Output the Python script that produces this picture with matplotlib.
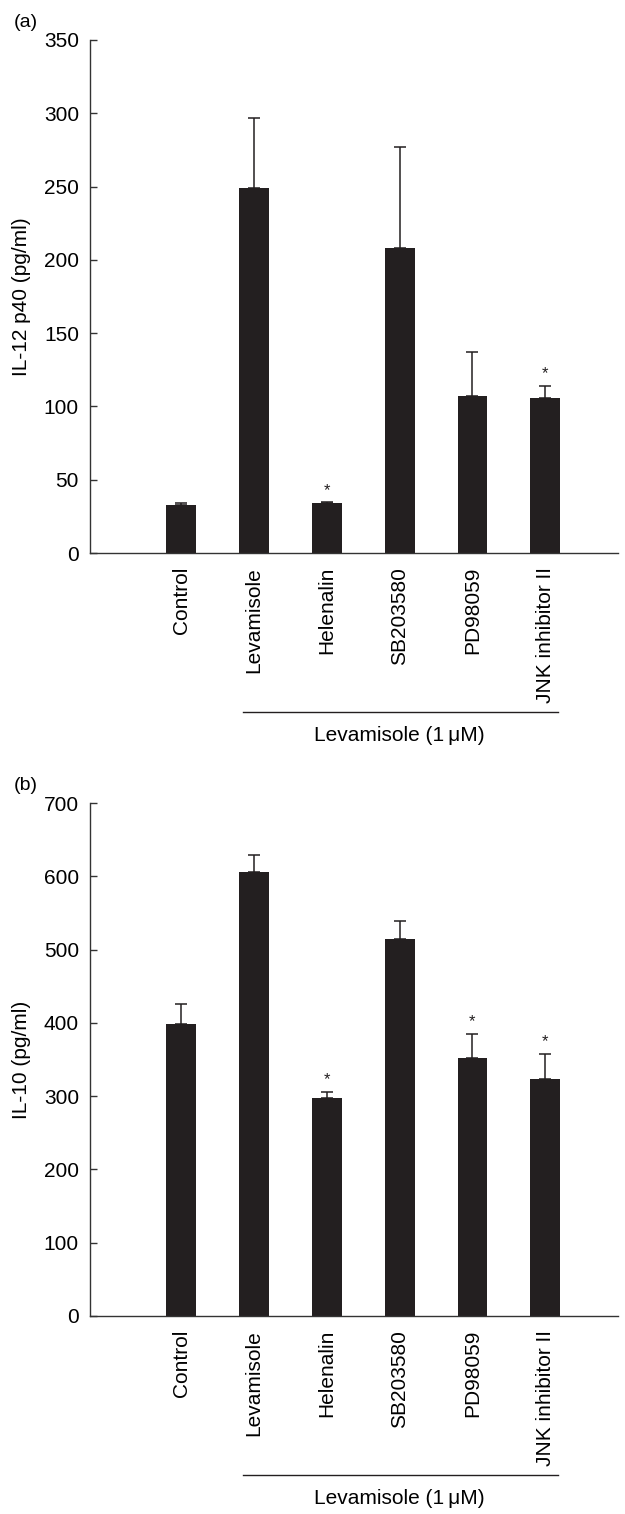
import numpy as np
import matplotlib
matplotlib.use("Agg")
import matplotlib.pyplot as plt
import matplotlib.transforms as mtransforms

plt.rcParams["font.family"] = ["Liberation Sans", "DejaVu Sans"]

categories = ["Control", "Levamisole", "Helenalin", "SB203580", "PD98059", "JNK inhibitor II"]

# panel (a) IL-12 p40
il12_mean = [33, 249, 34, 208, 107, 106]
il12_err = [1, 48, 0.5, 69, 30, 8]
il12_star = [False, False, True, False, False, True]

# panel (b) IL-10
il10_mean = [398, 606, 297, 514, 352, 323]
il10_err = [28, 23, 9, 25, 33, 34]
il10_star = [False, False, True, False, True, True]

bar_color = "#231f20"
axis_color = "#333333"


def draw_panel(ax, means, errs, stars, ymax, ystep, ylabel, letter):
    x = np.arange(len(categories))
    ax.bar(x, means, width=0.41, color=bar_color, zorder=2)
    ax.errorbar(x, means, yerr=[np.zeros(len(errs)), errs], fmt="none",
                ecolor=bar_color, elinewidth=1.1, capsize=4.5, capthick=1.1, zorder=3)
    for xi, m, e, s in zip(x, means, errs, stars):
        if s:
            ax.annotate("*", (xi, m + e), xytext=(0, 3.5), textcoords="offset points",
                        ha="center", va="bottom", fontsize=12, color=bar_color)

    ax.set_xlim(-1.25, 6.0)
    ax.set_ylim(0, ymax)
    ax.set_yticks(np.arange(0, ymax + 1, ystep))
    ax.set_xticks(x)
    ax.set_xticklabels(categories, rotation=90, fontsize=15, va="top")
    ax.tick_params(axis="x", length=0, pad=10)
    ax.tick_params(axis="y", direction="in", length=5, width=1, labelsize=15,
                   pad=8, color=axis_color)
    for side in ["top", "right"]:
        ax.spines[side].set_visible(False)
    for side in ["left", "bottom"]:
        ax.spines[side].set_color(axis_color)
        ax.spines[side].set_linewidth(1.0)
    ax.set_ylabel(ylabel, fontsize=15, labelpad=9)

    # group bracket under the treated bars
    trans = mtransforms.blended_transform_factory(ax.transData, ax.transAxes)
    ax.plot([0.85, 5.18], [-0.31, -0.31], transform=trans, color=bar_color,
            lw=1.0, clip_on=False)
    ax.text(3.0, -0.355, "Levamisole (1\u2009\u03bcM)", transform=trans,
            ha="center", va="center", fontsize=15)
    ax.text(-0.145, 1.035, letter, transform=ax.transAxes, fontsize=14,
            ha="left", va="center")


fig = plt.figure(figsize=(6.25, 15.14), dpi=100)
ax_a = fig.add_axes([0.144, 0.6347, 0.845, 0.3389])
ax_b = fig.add_axes([0.144, 0.1308, 0.845, 0.3388])

draw_panel(ax_a, il12_mean, il12_err, il12_star, 350, 50, "IL-12 p40 (pg/ml)", "(a)")
draw_panel(ax_b, il10_mean, il10_err, il10_star, 700, 100, "IL-10 (pg/ml)", "(b)")

fig.savefig("out.png", dpi=100)
